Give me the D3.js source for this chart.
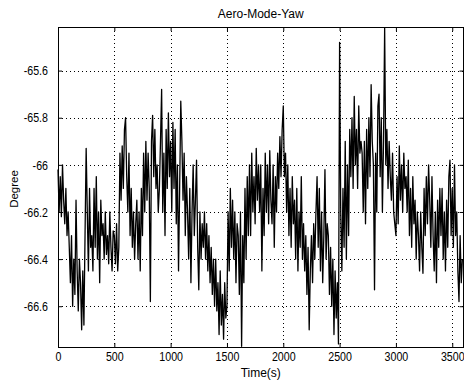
<!DOCTYPE html>
<html>
<head>
<meta charset="utf-8">
<script src="https://cdn.jsdelivr.net/npm/d3@7"></script>
<style>
  body { margin: 0; background: #fff; }
  svg { display: block; }
  text { font-family: "Liberation Sans", Arial, Helvetica, sans-serif; }
</style>
</head>
<body>
<div id="chart"></div>
<script>
// yaw angle in degrees, one sample every 10 s starting at t = 0
const sampleStep = 10;
const yaw = [
  -66.02,-66.2,-66.05,-66.22,-66.0,-66.15,-66.25,-66.1,-66.3,-66.2,
  -66.35,-66.5,-66.3,-66.6,-66.4,-66.55,-66.15,-66.45,-66.62,-66.4,
  -66.5,-66.7,-66.45,-66.68,-66.3,-65.93,-66.2,-66.45,-66.1,-66.35,
  -66.3,-66.45,-66.1,-66.35,-66.05,-66.4,-66.2,-66.5,-66.15,-66.3,
  -66.25,-66.4,-66.2,-66.38,-66.3,-66.42,-66.2,-66.35,-66.45,-66.28,
  -66.3,-66.42,-66.25,-66.45,-66.35,-65.95,-66.15,-65.92,-66.1,-65.85,
  -65.8,-66.05,-66.2,-65.95,-66.3,-66.1,-66.35,-66.2,-66.4,-66.25,
  -66.15,-66.4,-66.2,-66.45,-66.1,-66.3,-65.95,-66.2,-65.9,-66.15,
  -65.95,-66.1,-66.58,-65.9,-65.79,-66.05,-65.85,-66.1,-66.0,-66.2,
  -66.1,-65.9,-65.68,-66.2,-65.95,-66.3,-65.85,-66.1,-65.78,-66.05,
  -65.9,-66.2,-65.82,-66.1,-65.85,-66.25,-66.0,-66.45,-66.1,-65.73,
  -65.9,-66.15,-65.95,-66.3,-66.05,-66.2,-66.4,-66.1,-66.5,-66.2,
  -66.0,-66.3,-66.15,-65.98,-66.35,-66.53,-66.2,-66.4,-66.25,-66.35,
  -66.2,-66.4,-66.25,-66.45,-66.3,-66.5,-66.35,-66.55,-66.4,-66.6,
  -66.4,-66.62,-66.5,-66.72,-66.45,-66.68,-66.55,-66.74,-66.5,-66.65,
  -66.6,-66.2,-66.45,-66.1,-66.35,-66.15,-66.4,-66.2,-66.5,-66.25,
  -66.3,-66.55,-66.2,-66.77,-66.3,-66.5,-66.1,-66.4,-66.05,-66.3,
  -66.0,-66.3,-65.95,-66.2,-66.05,-66.25,-65.93,-66.15,-66.0,-66.2,
  -66.0,-66.45,-66.1,-66.3,-65.95,-66.2,-66.0,-66.25,-65.94,-66.15,
  -66.25,-66.0,-66.35,-66.05,-66.2,-65.95,-66.1,-65.88,-66.05,-65.85,
  -65.75,-66.05,-65.95,-66.2,-66.0,-66.3,-66.1,-66.35,-66.05,-66.25,
  -66.15,-66.4,-66.1,-66.45,-66.2,-66.35,-66.05,-66.4,-66.25,-66.45,
  -66.3,-66.55,-66.35,-66.7,-66.45,-66.3,-66.5,-66.25,-66.4,-66.2,
  -66.05,-66.35,-66.1,-66.45,-66.2,-66.5,-66.3,-66.02,-66.4,-66.25,
  -66.3,-66.55,-66.35,-66.6,-66.4,-66.72,-66.45,-66.65,-66.5,-66.76,
  -65.48,-66.2,-66.45,-66.1,-66.35,-65.9,-66.4,-66.0,-66.3,-65.85,
  -66.05,-65.8,-66.1,-65.71,-66.0,-65.85,-66.1,-65.75,-65.95,-65.9,
  -65.95,-66.2,-65.9,-66.25,-65.85,-66.1,-65.8,-66.05,-65.66,-65.9,
  -66.0,-66.53,-65.95,-66.2,-65.75,-65.7,-66.05,-65.8,-66.2,-65.9,
  -65.42,-66.0,-65.85,-66.1,-65.9,-66.05,-66.15,-65.95,-66.2,-66.25,
  -66.3,-66.05,-66.25,-65.92,-66.15,-66.0,-66.2,-65.95,-66.1,-66.05,
  -66.2,-65.98,-66.3,-66.1,-66.35,-66.05,-66.25,-66.15,-66.4,-66.2,
  -66.3,-66.45,-66.2,-66.35,-66.46,-66.1,-66.3,-66.05,-66.25,-66.0,
  -66.15,-66.35,-66.05,-66.3,-66.45,-66.2,-66.5,-66.15,-66.35,-66.1,
  -66.3,-66.1,-66.4,-66.2,-66.45,-66.15,-66.35,-66.05,-65.98,-66.3,
  -66.1,-66.35,-66.0,-66.3,-66.2,-66.45,-66.58,-66.3,-66.5,-66.4
];
const xTicks = [0, 500, 1000, 1500, 2000, 2500, 3000, 3500];
const yTicks = [-65.6, -65.8, -66, -66.2, -66.4, -66.6];

const width = 464, height = 381;
const margin = {top: 27, right: 0.5, bottom: 34, left: 58};

let svg = d3.select("#chart").append("svg")
    .attr("width", width)
    .attr("height", height);

let x = d3.scaleLinear()
    .domain([0, 3600])
    .range([margin.left, width - margin.right]);

let y = d3.scaleLinear()
    .domain([-66.773, -65.415])
    .range([height - margin.bottom, margin.top]);

let x0 = margin.left, x1 = width - margin.right;
let y0 = height - margin.bottom, y1 = margin.top;

// grid
let grid = svg.append("g")
    .attr("stroke", "#000")
    .attr("stroke-width", 1)
    .attr("stroke-dasharray", "1,3")
    .attr("shape-rendering", "crispEdges");
grid.selectAll(".vg")
    .data(xTicks.slice(1))
    .enter().append("line")
    .attr("x1", d => Math.round(x(d)) + 0.5)
    .attr("x2", d => Math.round(x(d)) + 0.5)
    .attr("y1", y1)
    .attr("y2", y0);
grid.selectAll(".hg")
    .data(yTicks)
    .enter().append("line")
    .attr("y1", d => Math.round(y(d)) + 0.5)
    .attr("y2", d => Math.round(y(d)) + 0.5)
    .attr("x1", x0)
    .attr("x2", x1);

// data line
let line = d3.line()
    .x((d, i) => x(i * sampleStep))
    .y(d => y(d));

svg.append("path")
    .datum(yaw)
    .attr("fill", "none")
    .attr("stroke", "#000")
    .attr("stroke-width", 1.3)
    .attr("stroke-linejoin", "round")
    .attr("d", line);

// axes, ticks inside like matlab
function styleAxis(g) {
    g.select(".domain").remove();
    g.selectAll(".tick line").attr("stroke", "#000");
    g.selectAll("text")
        .attr("fill", "#000")
        .style("font-size", "13px");
}

svg.append("g")
    .attr("transform", "translate(0," + y0 + ")")
    .call(d3.axisBottom(x).tickValues(xTicks).tickSize(-4).tickPadding(5).tickFormat(d => String(d)))
    .call(styleAxis)
    .selectAll("text")
    .attr("transform", "scale(0.82,1)");

svg.append("g")
    .attr("transform", "translate(0," + y1 + ")")
    .call(d3.axisTop(x).tickValues(xTicks).tickSize(-4).tickFormat(""))
    .call(styleAxis);

svg.append("g")
    .attr("transform", "translate(" + x0 + ",0)")
    .call(d3.axisLeft(y).tickValues(yTicks).tickSize(-4).tickFormat(d => String(d)))
    .call(styleAxis)
    .selectAll("text")
    .attr("x", 0)
    .attr("transform", "translate(-10,0) scale(0.82,1)");

svg.append("g")
    .attr("transform", "translate(" + x1 + ",0)")
    .call(d3.axisRight(y).tickValues(yTicks).tickSize(-4).tickFormat(""))
    .call(styleAxis);

// box
svg.append("rect")
    .attr("x", x0 + 0.5)
    .attr("y", y1 + 0.5)
    .attr("width", x1 - x0 - 0.5)
    .attr("height", y0 - y1)
    .attr("fill", "none")
    .attr("stroke", "#000")
    .attr("shape-rendering", "crispEdges");

// labels
svg.append("text")
    .attr("x", (x0 + x1) / 2)
    .attr("y", 18)
    .attr("text-anchor", "middle")
    .style("font-size", "12px")
    .text("Aero-Mode-Yaw");

svg.append("text")
    .attr("x", (x0 + x1) / 2)
    .attr("y", 377)
    .attr("text-anchor", "middle")
    .style("font-size", "12px")
    .text("Time(s)");

svg.append("text")
    .attr("transform", "translate(18,189) rotate(-90)")
    .attr("text-anchor", "middle")
    .style("font-size", "11.5px")
    .text("Degree");
</script>
</body>
</html>
